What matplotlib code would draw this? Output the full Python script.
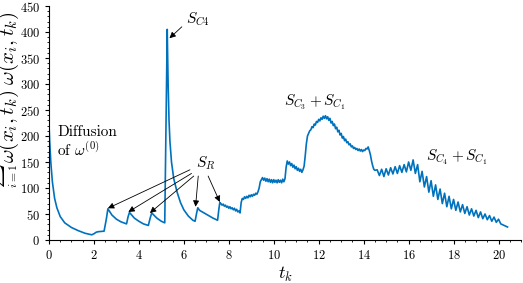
import numpy as np
from matplotlib import pyplot as plt
from matplotlib.ticker import MultipleLocator

plt.rcParams['font.family'] = 'serif'
plt.rcParams['font.serif'] = ['cmr10']
plt.rcParams['mathtext.fontset'] = 'cm'
plt.rcParams['axes.formatter.use_mathtext'] = True

# decay, S_R jumps and the S_C4 spike
t_early = [0.0, 0.03, 0.08, 0.15, 0.25, 0.35, 0.5, 0.7, 1.0, 1.3, 1.6, 1.9, 2.0, 2.1,
           2.2, 2.45, 2.55, 2.62, 2.8, 3.0, 3.2, 3.45, 3.52, 3.58, 3.8, 4.0, 4.2, 4.42,
           4.5, 4.57, 4.8, 5.0, 5.15, 5.2, 5.26, 5.3, 5.34, 5.38, 5.45, 5.55, 5.7, 5.85,
           6.0, 6.2, 6.4, 6.5, 6.56, 6.62, 6.7, 6.9, 7.1, 7.3, 7.5, 7.56, 7.6]
v_early = [222, 190, 150, 112, 80, 62, 45, 33, 24, 18, 13, 10, 12, 15,
           16, 17, 40, 60, 48, 40, 35, 31, 45, 53, 42, 36, 31, 28,
           42, 52, 42, 36, 33, 200, 405, 300, 230, 190, 150, 118, 92, 72,
           58, 46, 38, 36, 50, 62, 57, 52, 47, 42, 38, 60, 72]

# noisy part, sampled every 0.05
t_noisy = np.linspace(7.65, 14.5, 138)
v_noisy = [70, 67, 69, 65, 67, 63, 65, 61, 64, 60,
           62, 58, 61, 56, 59, 54, 56, 52, 72, 80,
           78, 83, 80, 84, 81, 86, 83, 87, 84, 88,
           86, 90, 88, 93, 100, 112, 116, 120, 115, 119,
           113, 118, 112, 117, 111, 116, 110, 116, 111, 115,
           110, 116, 111, 115, 110, 117, 112, 118, 140, 152,
           146, 150, 143, 147, 140, 144, 137, 141, 134, 138,
           132, 136, 130, 135, 142, 162, 185, 200, 205, 210,
           212, 218, 216, 223, 221, 228, 226, 232, 229, 235,
           232, 238, 234, 239, 233, 237, 230, 234, 225, 228,
           220, 223, 214, 217, 208, 211, 202, 205, 196, 199,
           191, 194, 187, 189, 183, 185, 179, 181, 176, 178,
           174, 176, 172, 175, 171, 174, 170, 173, 172, 176,
           175, 179, 172, 164, 152, 143, 136, 134]

# oscillating tail, sampled every 0.1
t_osc = np.linspace(14.6, 20.4, 59)
v_osc = [135, 124, 136, 122, 137, 125, 139, 127, 141, 128,
         143, 130, 145, 131, 150, 134, 154, 128, 145, 112,
         132, 102, 122, 92, 114, 84, 106, 78, 98, 70,
         90, 64, 84, 60, 78, 57, 73, 54, 68, 51,
         64, 48, 60, 46, 57, 43, 54, 41, 50, 39,
         47, 36, 44, 34, 40, 31, 29, 27, 25]

t = np.concatenate([t_early, t_noisy, t_osc])
v = np.concatenate([v_early, v_noisy, v_osc])

fig = plt.figure(figsize=(5.23, 2.83), dpi=100)
ax = fig.add_axes([49 / 523, 43 / 283, 472 / 523, 234 / 283])
ax.plot(t, v, color='#0072BD', lw=1.2)

ax.set_xlim(0, 21)
ax.set_ylim(0, 450)
ax.set_xticks(np.arange(0, 21, 2))
ax.set_yticks(np.arange(0, 451, 50))
ax.xaxis.set_minor_locator(MultipleLocator(0.5))
ax.yaxis.set_minor_locator(MultipleLocator(10))
ax.tick_params(which='major', direction='out', length=3, width=0.8, labelsize=9)
ax.tick_params(which='minor', direction='out', length=1.5, width=0.6)
for s in ['top', 'right']:
    ax.spines[s].set_visible(False)

ax.set_xlabel('$t_k$', fontsize=13, labelpad=2)
# y label in two pieces so the big sum sign does not push the rest off the picture;
# as in the original, its far end runs off the top
fig.text(21 / 523, 120 / 283, r'$\omega(x_i,t_k)\;\omega(x_i,t_k)$',
         fontsize=15, rotation=90, ha='right', va='bottom')
fig.text(20 / 523, 120 / 283, r'$\sum_{i=1}^{n_s}$',
         fontsize=12, rotation=90, ha='right', va='top')

arw = dict(arrowstyle='-|>', color='k', lw=0.6, mutation_scale=9, shrinkA=0, shrinkB=0)

ax.text(0.36, 188, 'Diffusion\nof $\\omega^{(0)}$', fontsize=11, ha='left', va='center',
        linespacing=1.1)

ax.annotate('', xy=(5.36, 388), xytext=(5.91, 410), arrowprops=arw)
ax.text(6.62, 425, '$S_{C4}$', fontsize=11, ha='center', va='center')

ax.text(6.98, 148, '$S_R$', fontsize=11, ha='center', va='center')
sr_heads = [(2.62, 61), (3.53, 54), (4.49, 52), (6.52, 64), (7.6, 73)]
sr_tails = [(6.27, 135), (6.34, 128), (6.44, 123), (6.64, 123), (7.08, 123)]
for h, tl in zip(sr_heads, sr_tails):
    ax.annotate('', xy=h, xytext=tl, arrowprops=arw)

ax.text(11.82, 265, '$S_{C_3}+S_{C_1}$', fontsize=11, ha='center', va='center')
ax.text(18.13, 160, '$S_{C_4}+S_{C_1}$', fontsize=11, ha='center', va='center')

fig.savefig('out.png', dpi=100)
